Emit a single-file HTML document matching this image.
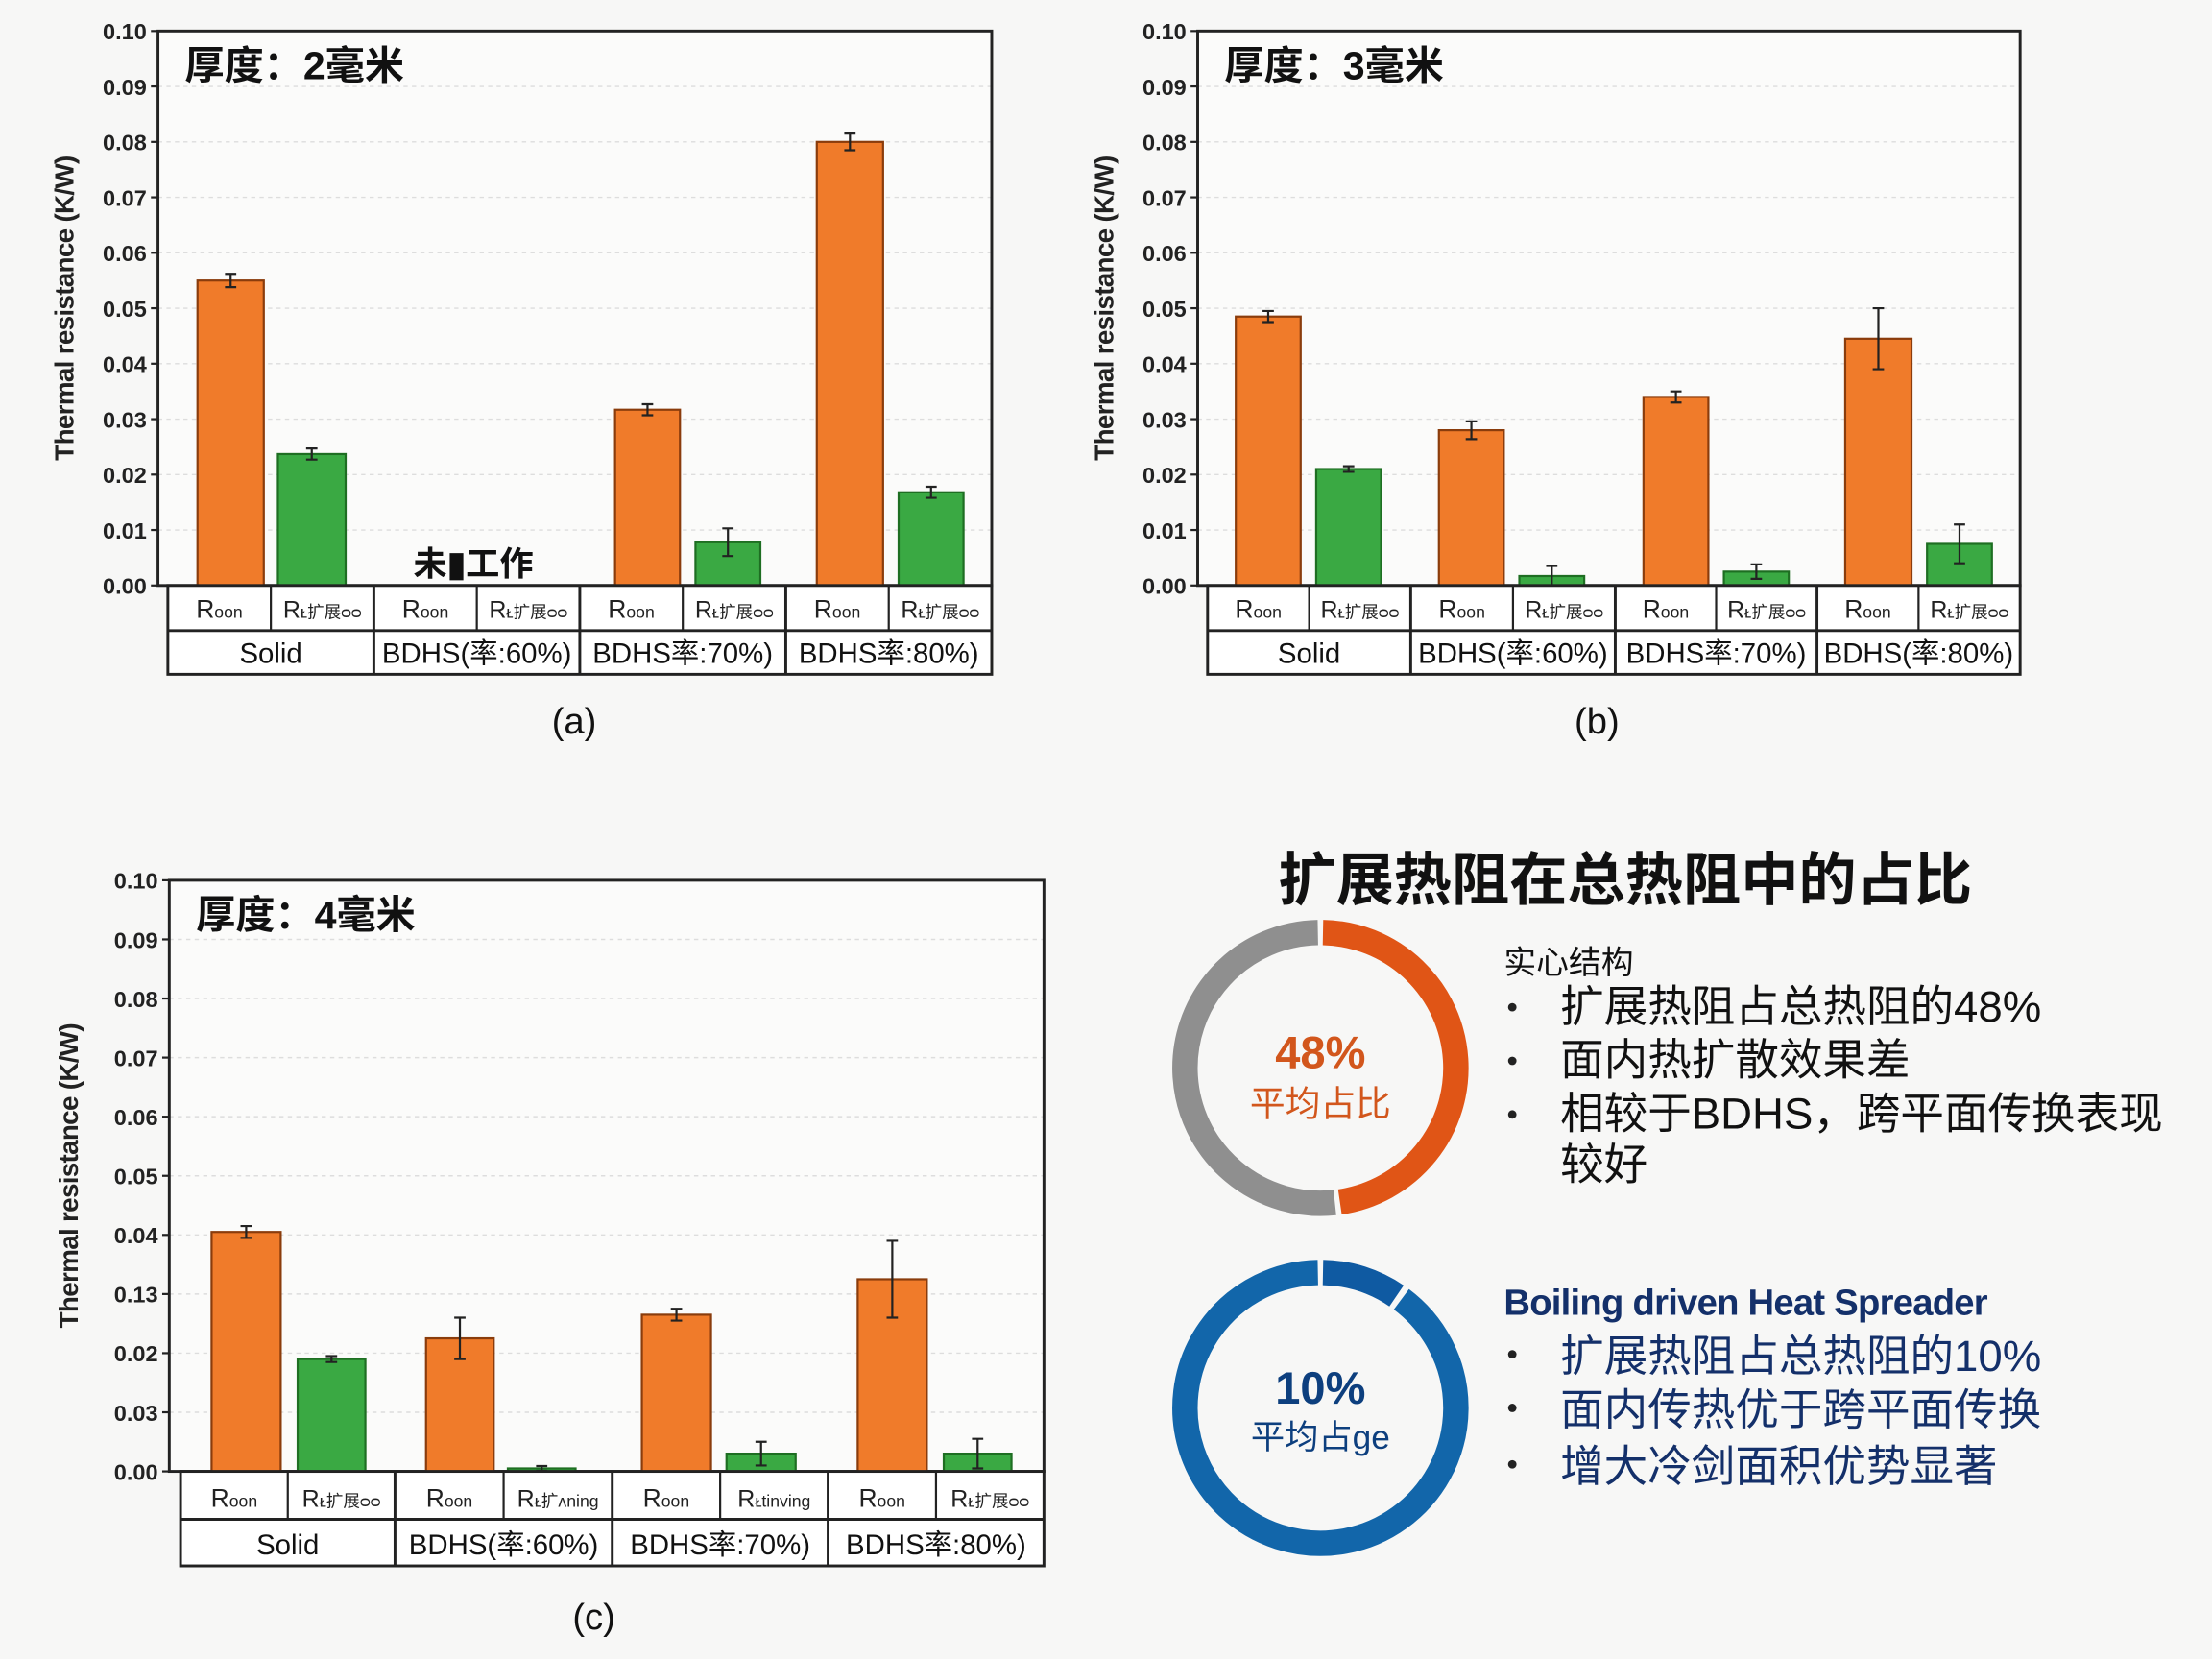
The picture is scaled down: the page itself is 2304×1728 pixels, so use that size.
<!DOCTYPE html>
<html><head><meta charset="utf-8"><style>
html,body{margin:0;padding:0;background:#f7f7f6;}
svg{display:block;}
text{font-family:"Liberation Sans","Noto Sans CJK SC",sans-serif;}
</style></head><body>
<svg id="s" width="2304" height="1728" viewBox="0 0 1568 1176" xmlns="http://www.w3.org/2000/svg">
<rect width="1568" height="1176" fill="#f7f7f6"/>
</svg>
<script>
const s=document.getElementById('s');let h='';
function panel(P){
 const {ax,x1,y0,y1,tl,tr,div,bars,title,lbl,r2,cap,capx,capy}=P;
 const k=(y1-y0)/0.10;
 h+=`<rect x="${ax}" y="${y0}" width="${x1-ax}" height="${y1-y0}" fill="#fbfbfa"/>`;
 for(let i=0;i<=10;i++){const y=y1-i*0.01*k;
  if(i>0)h+=`<line x1="${ax}" x2="${x1}" y1="${y}" y2="${y}" stroke="#ddd" stroke-width="1" stroke-dasharray="3,3"/>`;
  h+=`<line x1="${ax-5}" x2="${ax}" y1="${y}" y2="${y}" stroke="#222" stroke-width="1.5"/>`;
  h+=`<text x="${ax-8}" y="${y+6}" font-size="16" font-weight="bold" text-anchor="end" fill="#222">${lbl&&lbl[i]?lbl[i]:(i/100).toFixed(2)}</text>`;}
 h+=`<rect x="${ax}" y="${y0}" width="${x1-ax}" height="${y1-y0}" fill="none" stroke="#222" stroke-width="2"/>`;
 bars.forEach(b=>{const top=y1-b[2]*k;const c=b[4]?'#3aa943':'#f07b2a';const sc=b[4]?'#1e6e22':'#8a3c0c';
  h+=`<rect x="${b[0]}" y="${top}" width="${b[1]-b[0]}" height="${y1-top}" fill="${c}" stroke="${sc}" stroke-width="1.5"/>`;
  const m=(b[0]+b[1])/2,e=b[3]*k;
  h+=`<path d="M${m} ${top-e}V${top+e}M${m-4} ${top-e}H${m+4}M${m-4} ${top+e}H${m+4}" stroke="#222" stroke-width="1.5" fill="none"/>`;});
 const ry1=y1, ry2=y1+P.rh1, ry3=y1+P.rh1+P.rh2;
 h+=`<rect x="${tl}" y="${ry1}" width="${tr-tl}" height="${ry3-ry1}" fill="#fff" stroke="#222" stroke-width="2"/>`;
 h+=`<line x1="${tl}" x2="${tr}" y1="${ry2}" y2="${ry2}" stroke="#222" stroke-width="2"/>`;
 const edges=[tl,...div,tr];const gn=['Solid','BDHS(率:60%)','BDHS率:70%)','BDHS率:80%)'];
 for(let g=0;g<4;g++){const a=edges[g],b=edges[g+1],m=(a+b)/2;
  if(g>0)h+=`<line x1="${a}" x2="${a}" y1="${ry1}" y2="${ry3}" stroke="#222" stroke-width="2"/>`;
  h+=`<line x1="${m}" x2="${m}" y1="${ry1}" y2="${ry2}" stroke="#222" stroke-width="1.5"/>`;
  h+=`<text x="${(a+m)/2}" y="${ry2-9}" font-size="18" text-anchor="middle" fill="#222">R<tspan font-size="12">oon</tspan></text>`;
  h+=`<text x="${(m+b)/2}" y="${ry2-9}" font-size="17" text-anchor="middle" fill="#222">R<tspan font-size="12">ᴌ${r2[g]}</tspan></text>`;
  h+=`<text x="${m}" y="${ry3-8}" font-size="20" text-anchor="middle" fill="#111">${P.gn?P.gn[g]:gn[g]}</text>`;}
 h+=`<text x="${ax+19}" y="${y0+34}" font-size="28" font-weight="bold" fill="#111">${title}</text>`;
 const cy=(y0+y1)/2;
 h+=`<text transform="translate(${P.ylx},${cy}) rotate(-90)" font-size="19" font-weight="bold" text-anchor="middle" fill="#222" letter-spacing="-0.5">Thermal resistance (K/W)</text>`;
 h+=`<text x="${capx}" y="${capy}" font-size="26" text-anchor="middle" fill="#111">${cap}</text>`;
}
panel({ax:112,x1:703,y0:22,y1:415,tl:119,tr:703,div:[265,411,557],rh1:32,rh2:31,ylx:52,title:'厚度：2毫米',
 r2:['扩展ᴑᴑ','扩展ᴑᴑ','扩展ᴑᴑ','扩展ᴑᴑ'],cap:'(a)',capx:407,capy:520,
 bars:[[140,187,.055,.0012],[197,245,.0237,.001,1],[436,482,.0317,.001],[493,539,.0078,.0025,1],[579,626,.080,.0015],[637,683,.0168,.001,1]]});
h+=`<text x="293" y="408" font-size="24" font-weight="bold" fill="#111">未▮工作</text>`;
panel({ax:849,x1:1432,y0:22,y1:415,tl:856,tr:1432,div:[1000,1145,1288],rh1:32,rh2:31,ylx:789,title:'厚度：3毫米',
 r2:['扩展ᴑᴑ','扩展ᴑᴑ','扩展ᴑᴑ','扩展ᴑᴑ'],cap:'(b)',capx:1132,capy:520,gn:['Solid','BDHS(率:60%)','BDHS率:70%)','BDHS(率:80%)'],
 bars:[[876,922,.0485,.001],[933,979,.021,.0005,1],[1020,1066,.028,.0016],[1077,1123,.0017,.0018,1],[1165,1211,.034,.001],[1222,1268,.0025,.0013,1],[1308,1355,.0445,.0055],[1366,1412,.0075,.0035,1]]});
panel({ax:120,x1:740,y0:624,y1:1043,tl:128,tr:740,div:[280,434,587],rh1:34,rh2:33,ylx:55,title:'厚度：4毫米',
 lbl:{3:'0.13',1:'0.03'},r2:['扩展ᴑᴑ','扩ᴧning','tinving','扩展ᴑᴑ'],cap:'(c)',capx:421,capy:1155,
 bars:[[150,199,.0405,.001],[211,259,.019,.0005,1],[302,350,.0225,.0035],[360,408,.0005,.0004,1],[455,504,.0265,.001],[515,564,.003,.002,1],[608,657,.0325,.0065],[669,717,.003,.0025,1]]});
h+=`<text x="1152" y="638" font-size="41" font-weight="bold" text-anchor="middle" fill="#111">扩展热阻在总热阻中的占比</text>`;
function arc(cx,cy,r,a0,a1,col,w){const p=a=>[cx+r*Math.sin(a*2*Math.PI),cy-r*Math.cos(a*2*Math.PI)];
 const [x0,y0]=p(a0),[x1,y1]=p(a1);const lg=(a1-a0)>.5?1:0;
 h+=`<path d="M${x0} ${y0}A${r} ${r} 0 ${lg} 1 ${x1} ${y1}" fill="none" stroke="${col}" stroke-width="${w}"/>`;}
arc(936,757,96,0.003,0.477,'#e05516',18);arc(936,757,96,0.483,0.997,'#8f8f8f',18);
h+=`<text x="936" y="757" font-size="32" font-weight="bold" text-anchor="middle" fill="#d2561c">48%</text>`;
h+=`<text x="936" y="791" font-size="25" text-anchor="middle" fill="#d2561c">平均占比</text>`;
arc(936,998,96,0.003,0.095,'#0f5aa2',18);arc(936,998,96,0.102,0.997,'#1266aa',18);
h+=`<text x="936" y="995" font-size="32" font-weight="bold" text-anchor="middle" fill="#0d3f7e">10%</text>`;
h+=`<text x="936" y="1027" font-size="24" text-anchor="middle" fill="#0d3f7e">平均占ge</text>`;
h+=`<text x="1066" y="690" font-size="23" fill="#111">实心结构</text>`;
[['扩展热阻占总热阻的48%',724],['面内热扩散效果差',762],['相较于BDHS，跨平面传换表现',800],['较好',836]].forEach((t,i)=>{
 if(i<3)h+=`<circle cx="1072" cy="${t[1]-10}" r="3" fill="#222"/>`;
 h+=`<text x="1106" y="${t[1]}" font-size="31" fill="#111">${t[0]}</text>`;});
h+=`<text x="1066" y="932" font-size="26" font-weight="bold" fill="#14306a" letter-spacing="-0.5">Boiling driven Heat Spreader</text>`;
[['扩展热阻占总热阻的10%',972],['面内传热优于跨平面传换',1010],['增大冷剑面积优势显著',1050]].forEach(t=>{
 h+=`<circle cx="1072" cy="${t[1]-12}" r="3" fill="#222"/>`;
 h+=`<text x="1106" y="${t[1]}" font-size="31" fill="#14306a">${t[0]}</text>`;});
s.insertAdjacentHTML('beforeend',h);
</script>
</body></html>
